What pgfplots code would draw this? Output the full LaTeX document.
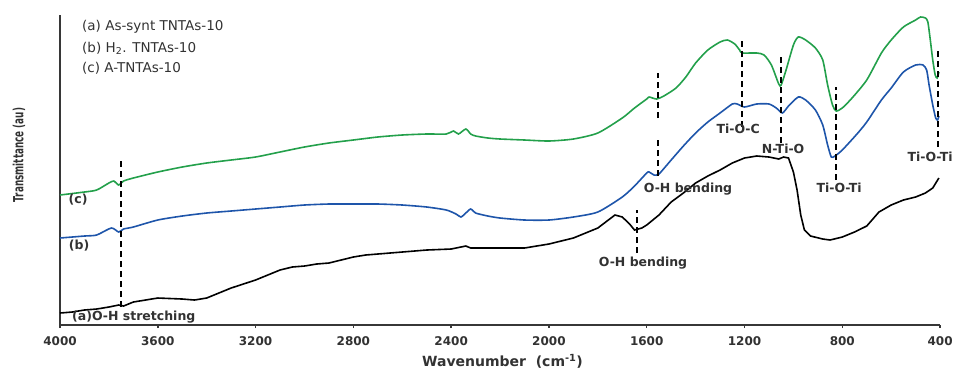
\documentclass[border=0pt]{standalone}
\usepackage{pgfplots}
\pgfplotsset{compat=1.18}
\usepackage{fontspec}
\setmainfont{DejaVu Sans}
\definecolor{cgreen}{RGB}{35,160,75}
\definecolor{cblue}{RGB}{30,85,170}
\definecolor{axgray}{RGB}{55,55,55}
\definecolor{txtgray}{RGB}{50,50,50}
\tikzset{vmark/.style={black, line width=2.2pt, dash pattern=on 6pt off 4pt}}
\begin{document}
\begin{tikzpicture}
\begin{axis}[
 scale only axis, width=880pt, height=310pt,
 x dir=reverse, xmin=400, xmax=4000, ymin=0, ymax=310,
 axis x line*=bottom, axis y line*=left,
 axis line style={line width=1.8pt, color=axgray, -},
 ytick=\empty,
 xtick={400,800,...,4000},
 tick align=outside, major tick length=3pt,
 tick style={line width=1.5pt, color=axgray},
 xticklabel style={font=\bfseries\fontsize{12}{14}\selectfont, text=txtgray, yshift=-5pt},
 /pgf/number format/assume math mode=true,
 /pgf/number format/1000 sep={},
 clip=false,
]
% (c) A-TNTAs-10
\addplot[cgreen, line width=1.6pt, smooth, tension=0.4] coordinates {
(4000,130) (3900,133) (3850,135) (3800,142) (3780,144) (3760,140) (3740,144)
(3700,147) (3600,153) (3500,158) (3400,162) (3300,165) (3200,168) (3100,173)
(3000,178) (2900,182) (2800,185) (2700,188) (2600,190) (2500,191) (2420,191)
(2390,194) (2370,191) (2340,196) (2320,191) (2300,189) (2250,187) (2200,186)
(2100,185) (2000,184) (1900,186) (1800,192) (1700,207) (1650,217) (1600,226)
(1590,228) (1560,226) (1530,229) (1480,237) (1440,248) (1400,262) (1350,275)
(1300,283) (1270,285) (1240,281) (1220,275) (1210,272) (1150,272) (1120,270)
(1090,260) (1060,241) (1050,240) (1030,255) (1000,280) (980,288) (950,285)
(910,277) (880,265) (860,240) (840,220) (825,214) (800,217) (760,227)
(700,245) (640,272) (600,285) (550,298) (500,305) (480,308) (460,307)
(450,303) (440,285) (430,265) (420,250) (412,247) (405,253)
};
% (b) H2. TNTAs-10
\addplot[cblue, line width=1.6pt, smooth, tension=0.4] coordinates {
(4000,87) (3900,89) (3850,90) (3790,97) (3760,93) (3740,96) (3700,98)
(3600,105) (3500,109) (3400,112) (3300,114) (3200,116) (3100,118) (3000,120)
(2900,121) (2800,121) (2700,121) (2600,120) (2500,118) (2420,115) (2380,111)
(2360,108) (2340,112) (2320,116) (2300,112) (2250,109) (2200,107) (2100,105)
(2000,105) (1900,108) (1800,113) (1700,128) (1650,139) (1600,152) (1590,153)
(1570,150) (1550,151) (1500,165) (1450,179) (1400,192) (1350,203) (1300,212)
(1250,221) (1230,221) (1200,218) (1150,221) (1100,221) (1070,217) (1045,212)
(1020,219) (980,228) (950,225) (910,215) (880,200) (860,180) (845,168)
(830,169) (800,175) (740,191) (700,203) (640,225) (600,237) (550,253)
(500,260) (470,260) (455,255) (445,240) (430,220) (418,207) (410,205) (405,209)
};
% (a) As-synt TNTAs-10
\addplot[black, line width=1.6pt] coordinates {
(4000,12) (3950,13) (3900,15) (3850,16) (3800,18) (3760,20) (3740,19)
(3700,23) (3650,25) (3600,27) (3500,26) (3450,25) (3400,27) (3350,32)
(3300,37) (3250,41) (3200,45) (3150,50) (3100,55) (3050,58) (3000,59)
(2950,61) (2900,62) (2850,65) (2800,68) (2750,70) (2700,71) (2600,73)
(2500,75) (2400,76) (2360,78) (2340,79) (2320,77) (2300,77) (2200,77)
(2100,77) (2000,81) (1900,87) (1800,97) (1730,110) (1700,108) (1670,101)
(1650,95) (1620,97) (1600,100) (1550,110) (1500,123) (1450,132) (1400,142)
(1350,149) (1300,155) (1250,162) (1200,167) (1150,169) (1100,168) (1060,166)
(1040,168) (1020,167) (1000,153) (985,135) (970,110) (955,95) (930,89)
(880,86) (850,85) (800,88) (750,93) (700,99) (650,113) (600,120)
(550,125) (500,128) (460,132) (430,137) (415,143) (405,147)
};
% dashed band markers
\addplot[vmark] coordinates {(3750,18) (3750,165)};
\addplot[vmark] coordinates {(1555,207) (1555,252)};
\addplot[vmark] coordinates {(1555,149) (1555,185)};
\addplot[vmark] coordinates {(1211,198) (1211,287)};
\addplot[vmark] coordinates {(1050,182) (1050,268)};
\addplot[vmark] coordinates {(825,145) (825,238)};
\addplot[vmark] coordinates {(410,178) (410,277)};
\addplot[vmark] coordinates {(1641,72) (1641,115)};
% texts
\begin{scope}[every node/.style={font=\bfseries\fontsize{12.5}{14}\selectfont, text=txtgray, inner sep=0pt}]
\node at (axis cs:1226,196) {Ti-O-C};
\node at (axis cs:1042,176) {N-Ti-O};
\node at (axis cs:813,137) {Ti-O-Ti};
\node at (axis cs:441,168) {Ti-O-Ti};
\node at (axis cs:1431,136) {O-H bending};
\node at (axis cs:1615,62) {O-H bending};
\node[anchor=west] at (axis cs:3951,8) {(a)O-H stretching};
\node at (axis cs:3926,125) {(c)};
\node at (axis cs:3922,79) {(b)};
\end{scope}
\begin{scope}[every node/.style={font=\fontsize{13.5}{15}\selectfont, text=txtgray, inner sep=0pt, anchor=west}]
\node at (axis cs:3910,298) {(a) As-synt TNTAs-10};
\node at (axis cs:3910,277) {(b) H\textsubscript{2}. TNTAs-10};
\node at (axis cs:3910,257) {(c) A-TNTAs-10};
\end{scope}
\node[rotate=90, text=txtgray, inner sep=0pt] at (axis cs:4168,170) {\scalebox{0.63}[1]{\bfseries\fontsize{14}{16}\selectfont Transmittance (au)}};
\node[font=\bfseries\fontsize{14}{16}\selectfont, text=txtgray, inner sep=0pt] at (axis cs:2190,-36) {Wavenumber\ \ (cm\textsuperscript{-1})};
\coordinate (bbl) at (axis cs:4245.5,-44);
\coordinate (btr) at (axis cs:339,325);
\end{axis}
\pgfresetboundingbox
\useasboundingbox (bbl) rectangle (btr);
\end{tikzpicture}
\end{document}
